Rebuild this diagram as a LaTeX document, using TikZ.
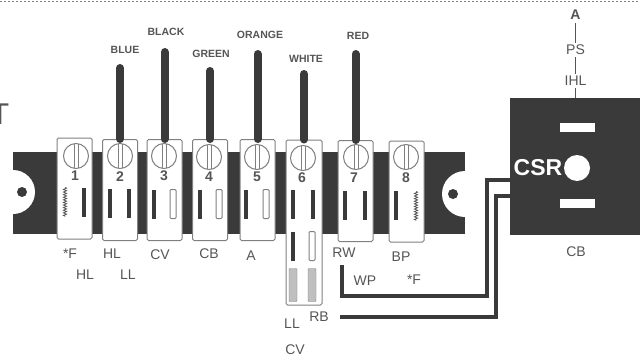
\documentclass[tikz,border=0pt]{standalone}
\usepackage{fontspec}
\setmainfont{Liberation Sans}
\usepackage{tikz}
\usetikzlibrary{positioning,shapes,arrows,decorations.pathmorphing}
\definecolor{inkdark}{HTML}{3A3A3A}
\definecolor{inkgray}{HTML}{555555}
\tikzstyle{bar} = [rectangle, fill=inkdark, inner sep=0pt, minimum width=452pt, minimum height=82pt]
\tikzstyle{block} = [rectangle, fill=inkdark, inner sep=0pt, minimum width=132pt, minimum height=137pt]
\tikzstyle{terminal} = [rectangle, rounded corners=1.5pt, fill=white, draw=gray, line width=1pt, inner sep=0pt, minimum width=35pt, minimum height=101pt]
\tikzstyle{screw} = [circle, draw=gray, line width=1pt, fill=white, inner sep=0pt, minimum size=25pt, path picture={\draw [gray, line width=0.8pt] ([xshift=-2pt]path picture bounding box.north) -- ([xshift=-2pt]path picture bounding box.south); \draw [gray, line width=0.8pt] ([xshift=2pt]path picture bounding box.north) -- ([xshift=2pt]path picture bounding box.south);}]
\tikzstyle{slotblack} = [rectangle, fill=inkdark, inner sep=0pt, minimum width=4pt, minimum height=29pt]
\tikzstyle{slotopen} = [rectangle, rounded corners=1pt, draw=gray, line width=1pt, fill=white, inner sep=0pt, minimum width=6pt, minimum height=29pt]
\tikzstyle{slotgray} = [rectangle, rounded corners=1pt, draw=gray, fill=lightgray, inner sep=0pt, minimum width=8pt, minimum height=33pt]
\tikzstyle{slotzig} = [rectangle, inner sep=0pt, minimum width=6pt, minimum height=29pt, path picture={\draw [inkgray, line width=0.8pt, decorate, decoration={zigzag,amplitude=1.6pt,segment length=2.6pt}] (path picture bounding box.north) -- (path picture bounding box.south);}]
\tikzstyle{plate} = [rectangle, fill=white, inner sep=0pt, minimum width=35pt, minimum height=9pt]
\tikzstyle{num} = [inner sep=0pt, text=inkgray, font=\bfseries\fontsize{14}{14}\selectfont]
\tikzstyle{tag} = [inner sep=1pt, text=inkgray, font=\fontsize{14}{14}\selectfont]
\tikzstyle{wirename} = [inner sep=0pt, text=inkgray, font=\bfseries\fontsize{10.5}{11}\selectfont]
\tikzstyle{wire} = [inkdark, line width=8pt, line cap=round]
\tikzstyle{cable} = [inkdark, line width=4.5pt]
\tikzstyle{leader} = [inkgray, line width=1.5pt]
\begin{document}
\begin{tikzpicture}[x=1pt,y=-1pt]
	\useasboundingbox (0,0) rectangle (640,359);
	% top edge and cut-off letter
	\coordinate (edgea) at (0,1);
	\coordinate (edgeb) at (640,1);
	\draw [gray, dash pattern=on 2pt off 2pt] (edgea) -- (edgeb);
	\node (cut) at (0,114) [inner sep=0pt, text=inkgray, font=\fontsize{30}{30}\selectfont] {T};

	% mounting bar
	\node (strip) at (239,192.5) [bar] {};
	\fill [white] (13,170) arc (-90:90:22) -- cycle;
	\fill [white] (465,171) arc (-90:-270:23) -- cycle;
	\node (holea) at (22,192) [circle, fill=inkdark, inner sep=0pt, minimum size=10pt] {};
	\node (holeb) at (453,194) [circle, fill=inkdark, inner sep=0pt, minimum size=10pt] {};

	% terminals
	\node (term1) at (74.5,188.5) [terminal] {};
	\node (term2) at (120,190) [terminal] {};
	\node (term3) at (164.5,190) [terminal] {};
	\node (term4) at (210,190) [terminal] {};
	\node (term5) at (257.5,190) [terminal] {};
	\node (term6) at (304,222.5) [terminal, minimum width=36pt, minimum height=165pt] {};
	\node (term7) at (355.5,191) [terminal] {};
	\node (term8) at (406.5,191.5) [terminal] {};

	\node (screw1) at (76,156) [screw] {};
	\node (screw2) at (120,156) [screw] {};
	\node (screw3) at (164,156) [screw] {};
	\node (screw4) at (209,157) [screw] {};
	\node (screw5) at (257,157) [screw] {};
	\node (screw6) at (303,158) [screw] {};
	\node (screw7) at (356,157) [screw] {};
	\node (screw8) at (406,157) [screw] {};

	\node (num1) at (75,176) [num] {1};
	\node (num2) at (120,177) [num] {2};
	\node (num3) at (164,176) [num] {3};
	\node (num4) at (209,177) [num] {4};
	\node (num5) at (257,177) [num] {5};
	\node (num6) at (302,178) [num] {6};
	\node (num7) at (354,178) [num] {7};
	\node (num8) at (406,178) [num] {8};

	% slots
	\node (slot1a) at (65,202) [slotzig] {};
	\node (slot1b) at (84,202) [slotblack] {};
	\node (slot2a) at (110,203) [slotblack] {};
	\node (slot2b) at (129,203) [slotblack] {};
	\node (slot3a) at (154,204) [slotblack] {};
	\node (slot3b) at (173,204) [slotopen] {};
	\node (slot4a) at (200,204) [slotblack] {};
	\node (slot4b) at (219,204) [slotopen] {};
	\node (slot5a) at (246,204) [slotblack] {};
	\node (slot5b) at (266,204) [slotopen] {};
	\node (slot6a) at (293,204) [slotblack] {};
	\node (slot6b) at (313,204) [slotblack] {};
	\node (slot6c) at (293,246) [slotblack] {};
	\node (slot6d) at (312,246) [slotopen] {};
	\node (slot6e) at (293,285) [slotgray] {};
	\node (slot6f) at (312,285) [slotgray] {};
	\node (slot7a) at (345,205) [slotblack] {};
	\node (slot7b) at (365,205) [slotblack] {};
	\node (slot8a) at (396,205) [slotblack] {};
	\node (slot8b) at (416,206) [slotzig] {};

	% colour wires
	\coordinate (blueend) at (120,68);
	\coordinate (blackend) at (164.5,52);
	\coordinate (greenend) at (210,71);
	\coordinate (orangeend) at (257.5,54);
	\coordinate (whiteend) at (304,74);
	\coordinate (redend) at (355.5,54);
	\draw [wire] (term2.north) -- (blueend);
	\draw [wire] (term3.north) -- (blackend);
	\draw [wire] (term4.north) -- (greenend);
	\draw [wire] (term5.north) -- (orangeend);
	\draw [wire] (term6.north) -- (whiteend);
	\draw [wire] (term7.north) -- (redend);

	\node (blue) at (125,50) [wirename] {BLUE};
	\node (black) at (166,32) [wirename] {BLACK};
	\node (green) at (211,54) [wirename] {GREEN};
	\node (orange) at (260,35) [wirename] {ORANGE};
	\node (white) at (306,59) [wirename] {WHITE};
	\node (red) at (358,36) [wirename] {RED};

	% labels under the terminals
	\node (f1) at (70,254) [tag] {*F};
	\node (hl1) at (112,254) [tag] {HL};
	\node (cv1) at (160,255) [tag] {CV};
	\node (cb1) at (209,254) [tag] {CB};
	\node (a1) at (251,256) [tag] {A};
	\node (hl2) at (85,275) [tag] {HL};
	\node (ll1) at (128,275) [tag] {LL};
	\node (ll2) at (292,324) [tag] {LL};
	\node (cv2) at (295,350) [tag] {CV};
	\node (rb) at (319,317) [tag] {RB};
	\node (rw) at (344,253) [tag] {RW};
	\node (bp) at (401,257) [tag] {BP};
	\node (wp) at (365,281) [tag] {WP};
	\node (f2) at (414,280) [tag] {*F};

	% circuit breaker block
	\node (cbbox) at (575.5,166.5) [block] {};
	\node (bara) at (577.5,127.5) [plate] {};
	\node (barb) at (577,203) [plate] {};
	\node (dot) at (577,168) [circle, fill=white, inner sep=0pt, minimum size=26pt] {};
	\node (csr) at (538,168) [inner sep=0pt, text=white, font=\bfseries\fontsize{23}{23}\selectfont] {CSR};
	\node (cb2) at (576,252) [tag] {CB};
	\node (a2) at (575.5,15) [tag, inner sep=3pt, font=\bfseries\fontsize{14}{14}\selectfont] {A};
	\node (ps) at (575.5,50) [tag, inner sep=2pt] {PS};
	\node (ihl) at (575.5,81) [tag, inner sep=2pt] {IHL};
	\draw [leader] (a2) -- (ps);
	\draw [leader] (ps) -- (ihl);
	\draw [leader] (ihl) -- (cbbox);

	% cables into the block
	\coordinate (rwstart) at (342,265);
	\coordinate (rwbend) at (487,296);
	\coordinate (rwend) at (510,180);
	\coordinate (rbbend) at (496,317);
	\coordinate (rbend) at (510,196);
	\coordinate (rbstart) at (340,317);
	\draw [cable] (rwstart) |- (rwbend) |- (rwend);
	\draw [cable] (rbstart) -- (rbbend) |- (rbend);
\end{tikzpicture}
\end{document}
